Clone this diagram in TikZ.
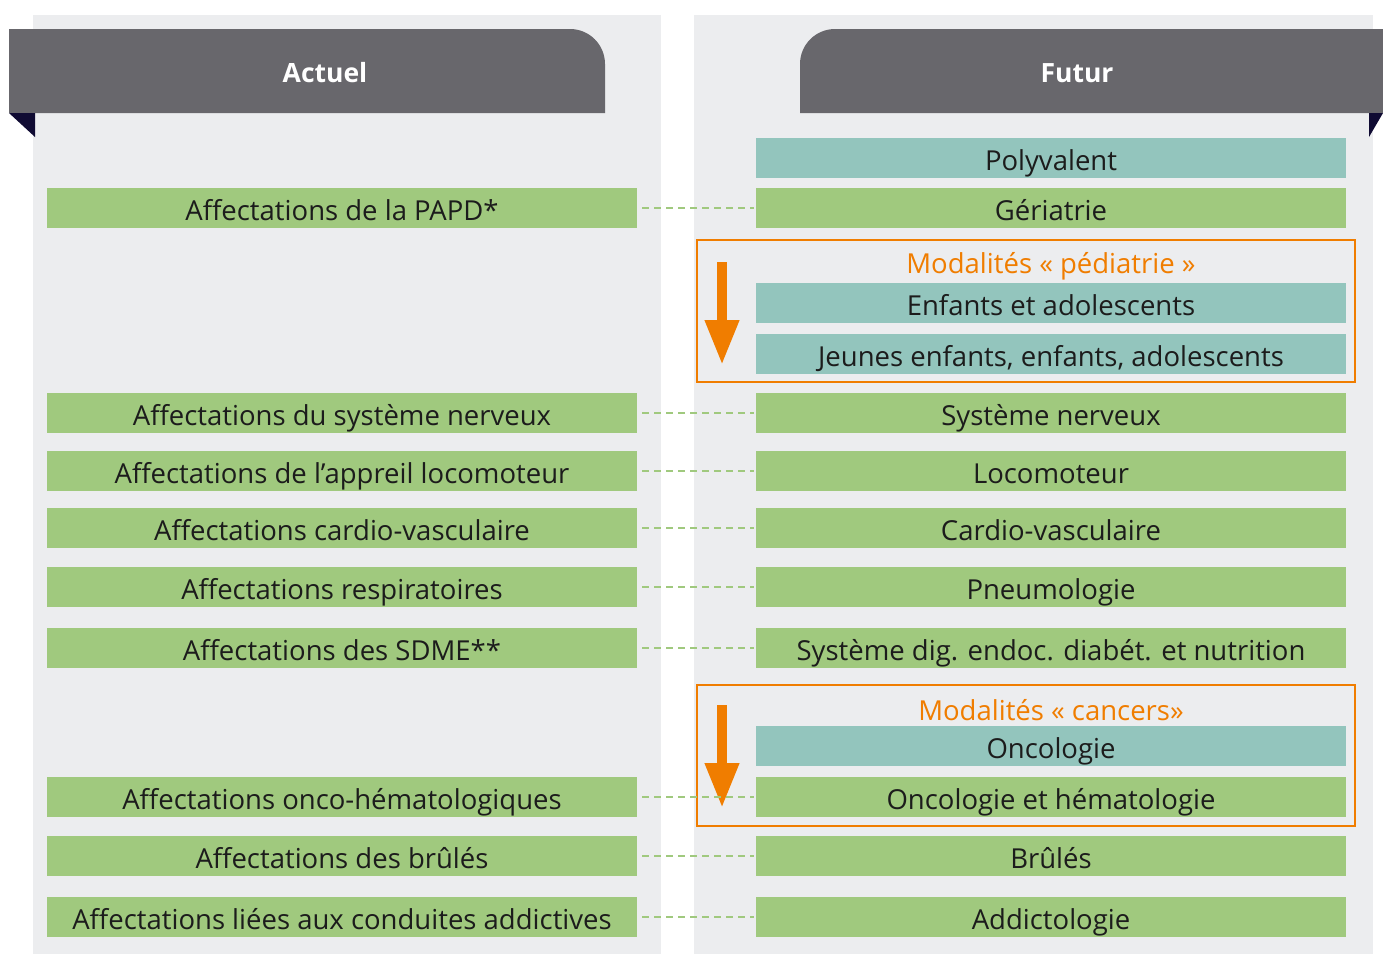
\documentclass[tikz,border=0pt]{standalone}
\usepackage{fontspec}
\setmainfont{Open Sans}
\usetikzlibrary{arrows.meta}
\definecolor{vert}{HTML}{A0C97E}
\definecolor{turq}{HTML}{93C5BD}
\definecolor{fond}{HTML}{ECEDEF}
\definecolor{entete}{HTML}{68676C}
\definecolor{pli}{HTML}{100B33}
\definecolor{orange}{HTML}{F07D00}
\definecolor{texte}{HTML}{1C1C1C}

\begin{document}
\begin{tikzpicture}[x=1pt,y=-1pt,
    boite/.style={fill=vert,minimum width=590pt,minimum height=40pt,inner sep=0pt,
      text height=25pt,text depth=1pt,text=texte,font=\fontsize{27.5}{32}\selectfont},
    bleu/.style={boite,fill=turq},
    titre/.style={text=white,font=\fontsize{26.5}{30}\selectfont\bfseries},
    modal/.style={text=orange,font=\fontsize{27.5}{32}\selectfont},
    cadre/.style={draw=orange,line width=2pt},
    fleche/.style={draw=orange,line width=10pt,-{Triangle[width=32pt,length=45pt]}},
    lien/.style={draw=vert,line width=2pt,dash pattern=on 7pt off 5pt,
      shorten <=5pt,shorten >=2pt}]
  \useasboundingbox (0,0) rectangle (1383,954);
  \fill[fond] (33,15) rectangle (661,954);
  \fill[fond] (694,15) rectangle (1373,954);
  % en-tetes
  \fill[entete] (9,113) -- (9,29) -- (570,29) arc[start angle=-90,end angle=0,radius=35] -- (605,113) -- cycle;
  \fill[pli] (9,113) -- (35,113) -- (35,137) -- cycle;
  \node[titre] (actuel) at (325,73) {Actuel};
  \fill[entete] (1383,113) -- (1383,29) -- (835,29) arc[start angle=-90,end angle=-180,radius=35] -- (800,113) -- cycle;
  \fill[pli] (1383,113) -- (1369,113) -- (1369,137) -- cycle;
  \node[titre] (futur) at (1077,73) {Futur};
  % modalites
  \draw[cadre] (697,240) rectangle (1355,382);
  \node[modal] (mped) at (1051,266) {Modalités « pédiatrie »};
  \draw[fleche] (722,262) -- (722,365);
  \draw[cadre] (697,685) rectangle (1355,826);
  \node[modal] (mcan) at (1051,710) {Modalités « cancers»};
  \draw[fleche] (722,705) -- (722,808);
  % actuel
  \node[boite] (papd) at (342,208) {Affectations de la PAPD*};
  \node[boite] (nerv) at (342,413) {Affectations du système nerveux};
  \node[boite] (loco) at (342,471) {Affectations de l’appreil locomoteur};
  \node[boite] (card) at (342,528) {Affectations cardio-vasculaire};
  \node[boite] (resp) at (342,587) {Affectations respiratoires};
  \node[boite] (sdme) at (342,648) {Affectations des SDME**};
  \node[boite] (onco) at (342,797) {Affectations onco-hématologiques};
  \node[boite] (brul) at (342,856) {Affectations des brûlés};
  \node[boite] (addi) at (342,917) {Affectations liées aux conduites addictives};
  % futur
  \node[bleu] (poly) at (1051,158) {Polyvalent};
  \node[boite] (geri) at (1051,208) {Gériatrie};
  \node[bleu] (enfa) at (1051,303) {Enfants et adolescents};
  \node[bleu] (jeun) at (1051,354) {Jeunes enfants, enfants, adolescents};
  \node[boite] (fnerv) at (1051,413) {Système nerveux};
  \node[boite] (floco) at (1051,471) {Locomoteur};
  \node[boite] (fcard) at (1051,528) {Cardio-vasculaire};
  \node[boite] (fpneu) at (1051,587) {Pneumologie};
  \node[boite] (fsdme) at (1051,648) {Système dig. endoc. diabét. et nutrition};
  \node[bleu] (fonc) at (1051,746) {Oncologie};
  \node[boite] (fonch) at (1051,797) {Oncologie et hématologie};
  \node[boite] (fbrul) at (1051,856) {Brûlés};
  \node[boite] (faddi) at (1051,917) {Addictologie};
  % liens
  \draw[lien] (papd) -- (geri);
  \draw[lien] (nerv) -- (fnerv);
  \draw[lien] (loco) -- (floco);
  \draw[lien] (card) -- (fcard);
  \draw[lien] (resp) -- (fpneu);
  \draw[lien] (sdme) -- (fsdme);
  \draw[lien] (onco) -- (fonch);
  \draw[lien] (brul) -- (fbrul);
  \draw[lien] (addi) -- (faddi);
\end{tikzpicture}
\end{document}
